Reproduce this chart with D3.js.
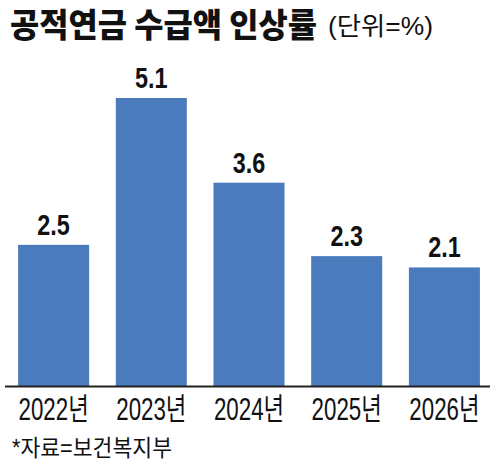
<!DOCTYPE html>
<html>
<head>
    <meta charset="utf-8">
    <script src="https://d3js.org/d3.v7.min.js"></script>
    <style>
        body { margin: 0; background: #fff; }
        svg { display: block; }
        .title { font-family: "Noto Sans CJK KR", sans-serif; font-weight: 900; fill: #111; }
        .unit { font-family: "Liberation Sans", "Noto Sans CJK KR", sans-serif; fill: #111; }
        .value { font-family: "Liberation Sans", sans-serif; font-weight: bold; fill: #111; }
        .tick text { font-family: "Liberation Sans", "Noto Sans CJK KR", sans-serif; fill: #111; }
        .source { font-family: "Liberation Sans", "Noto Sans CJK KR", sans-serif; fill: #111; }
    </style>
</head>
<body>
    <svg></svg>
    <script>
        // 데이터
        const years = ["2022년", "2023년", "2024년", "2025년", "2026년"];
        const rates = [2.5, 5.1, 3.6, 2.3, 2.1];

        const width = 500, height = 471;
        const margin = { left: 5, right: 7, top: 98 };
        const baseY = 386;

        const svg = d3.select("svg")
            .attr("width", width)
            .attr("height", height);

        // 제목
        svg.append("text")
            .attr("class", "title")
            .attr("x", 10)
            .attr("y", 37)
            .attr("font-size", 33)
            .attr("textLength", 307)
            .attr("lengthAdjust", "spacingAndGlyphs")
            .text("공적연금 수급액 인상률");

        svg.append("text")
            .attr("class", "unit")
            .attr("x", 328)
            .attr("y", 35)
            .attr("font-size", 25)
            .attr("textLength", 105)
            .attr("lengthAdjust", "spacingAndGlyphs")
            .text("(단위=%)");

        // 스케일
        const x = d3.scaleBand()
            .domain(years)
            .range([margin.left, width - margin.right])
            .paddingInner(0.273)
            .paddingOuter(0.134);

        const y = d3.scaleLinear()
            .domain([0, 5.1])
            .range([baseY, margin.top]);

        // 막대
        svg.append("g")
            .selectAll("rect")
            .data(rates)
            .join("rect")
            .attr("x", (d, i) => x(years[i]))
            .attr("y", d => y(d))
            .attr("width", x.bandwidth())
            .attr("height", d => baseY - y(d))
            .attr("fill", "#4a7bbd");

        // 값 라벨
        svg.append("g")
            .selectAll("text")
            .data(rates)
            .join("text")
            .attr("class", "value")
            .attr("transform", (d, i) =>
                `translate(${x(years[i]) + x.bandwidth() / 2},${y(d) - 10}) scale(0.78,1)`)
            .attr("text-anchor", "middle")
            .attr("font-size", 30)
            .text(d => d.toFixed(1));

        // x축
        const axis = svg.append("g")
            .attr("transform", `translate(0,${baseY})`)
            .call(d3.axisBottom(x).tickSize(0));
        axis.select(".domain")
            .attr("d", `M${margin.left},0.5H${width - 10}`)
            .attr("stroke", "#222")
            .attr("stroke-width", 2);
        axis.selectAll(".tick text")
            .attr("font-size", 31)
            .attr("y", 34)
            .attr("dy", 0)
            .attr("transform", "scale(0.72,1)");

        // 출처
        svg.append("text")
            .attr("class", "source")
            .attr("x", 12)
            .attr("y", 456)
            .attr("font-size", 23)
            .attr("textLength", 160)
            .attr("lengthAdjust", "spacingAndGlyphs")
            .text("*자료=보건복지부");
    </script>
</body>
</html>
